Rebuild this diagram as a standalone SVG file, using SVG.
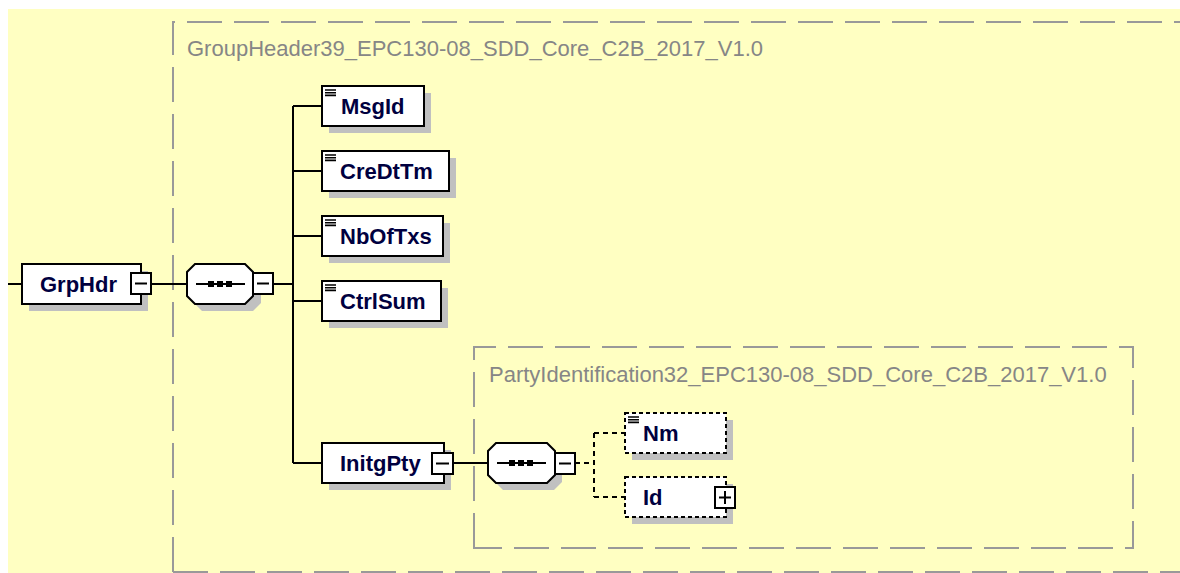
<svg xmlns="http://www.w3.org/2000/svg" width="1180" height="573" viewBox="0 0 1180 573">
<style>
.bg{fill:#FFFFC2}
.frame{fill:none;stroke:#999999;stroke-width:2;stroke-dasharray:35 12}
.title{font-family:"Liberation Sans",Arial,sans-serif;font-size:22px;fill:#868686}
.sh{fill:#c0c0c0}
.box{fill:#ffffff;stroke:#000000;stroke-width:2}
.dbox{fill:#ffffff;stroke:#000000;stroke-width:2;stroke-dasharray:4 3}
.lbl{font-family:"Liberation Sans",Arial,sans-serif;font-size:22px;font-weight:bold;fill:#00003f}
.ln{fill:none;stroke:#000000;stroke-width:2}
.dln{fill:none;stroke:#000000;stroke-width:2;stroke-dasharray:5 4}
.ic{stroke:#000000;stroke-width:1.6}
.pm{stroke:#000000;stroke-width:2}
.sq{fill:#000000}
</style>
<rect class="bg" x="8" y="9" width="1172" height="564"/>
<g id="frame-groupheader">
<path class="frame" d="M173,572 V22 H1180"/>
<path class="frame" d="M173,572 H1180"/>
<text class="title" x="187" y="56">GroupHeader39_EPC130-08_SDD_Core_C2B_2017_V1.0</text>
</g>
<g id="frame-party">
<path class="frame" d="M474,548 V347 H1133 V548 Z"/>
<text class="title" x="489" y="382">PartyIdentification32_EPC130-08_SDD_Core_C2B_2017_V1.0</text>
</g>
<g id="connectors">
<path class="ln" d="M8,284 H22"/>
<path class="ln" d="M151,284 H187"/>
<path class="ln" d="M273,284 H293"/>
<path class="ln" d="M293,106 V463"/>
<path class="ln" d="M293,106 H322 M293,171 H322 M293,236 H322 M293,301 H322 M293,463 H322"/>
<path class="ln" d="M453,463 H488"/>
<path class="dln" d="M575,463 H594"/>
<path class="dln" d="M594,433 V497"/>
<path class="dln" d="M594,433 H625 M594,497 H625"/>
</g>
<g id="GrpHdr">
<rect class="sh" x="29" y="271" width="119" height="40"/>
<rect class="box" x="22" y="264" width="119" height="40"/>
<text class="lbl" x="40" y="292">GrpHdr</text>
<rect class="box" x="131" y="273" width="20" height="21"/>
<path class="pm" d="M135,283.5 H147"/>
</g>
<g id="seq1">
<path class="sh" d="M202,271 H253 L261,279 V303 L253,311 H202 L194,303 V279 Z"/>
<path class="box" d="M195,264 H245 L253,272 V296 L245,304 H195 L187,296 V272 Z"/>
<path class="ln" d="M196,284 H245"/>
<rect class="sq" x="208" y="281" width="6" height="6"/>
<rect class="sq" x="217" y="281" width="6" height="6"/>
<rect class="sq" x="226" y="281" width="6" height="6"/>
<rect class="box" x="253" y="273" width="20" height="21"/>
<path class="pm" d="M257,283.5 H269"/>
</g>
<g id="MsgId">
<rect class="sh" x="329" y="93" width="102" height="40"/>
<rect class="box" x="322" y="86" width="102" height="40"/>
<path class="ic" d="M325,90 H336 M325,92.7 H336 M325,95.4 H336"/>
<text class="lbl" x="341" y="114">MsgId</text>
</g>
<g id="CreDtTm">
<rect class="sh" x="329" y="158" width="127" height="40"/>
<rect class="box" x="322" y="151" width="127" height="40"/>
<path class="ic" d="M325,155 H336 M325,157.7 H336 M325,160.4 H336"/>
<text class="lbl" x="340" y="179">CreDtTm</text>
</g>
<g id="NbOfTxs">
<rect class="sh" x="329" y="223" width="121" height="40"/>
<rect class="box" x="322" y="216" width="121" height="40"/>
<path class="ic" d="M325,220 H336 M325,222.7 H336 M325,225.4 H336"/>
<text class="lbl" x="340" y="244">NbOfTxs</text>
</g>
<g id="CtrlSum">
<rect class="sh" x="329" y="288" width="119" height="40"/>
<rect class="box" x="322" y="281" width="119" height="40"/>
<path class="ic" d="M325,285 H336 M325,287.7 H336 M325,290.4 H336"/>
<text class="lbl" x="340" y="309">CtrlSum</text>
</g>
<g id="InitgPty">
<rect class="sh" x="329" y="450" width="122" height="40"/>
<rect class="box" x="322" y="443" width="122" height="40"/>
<text class="lbl" x="340" y="471">InitgPty</text>
<rect class="box" x="432" y="453" width="21" height="21"/>
<path class="pm" d="M436,463.5 H449"/>
</g>
<g id="seq2">
<path class="sh" d="M503,450 H554 L562,458 V482 L554,490 H503 L495,482 V458 Z"/>
<path class="box" d="M496,443 H547 L555,451 V475 L547,483 H496 L488,475 V451 Z"/>
<path class="ln" d="M497,463 H546"/>
<rect class="sq" x="509" y="460" width="6" height="6"/>
<rect class="sq" x="518" y="460" width="6" height="6"/>
<rect class="sq" x="527" y="460" width="6" height="6"/>
<rect class="box" x="555" y="453" width="20" height="21"/>
<path class="pm" d="M559,463.5 H571"/>
</g>
<g id="Nm">
<rect class="sh" x="632" y="420" width="101" height="40"/>
<rect class="dbox" x="625" y="413" width="101" height="40"/>
<path class="ic" d="M628,417 H639 M628,419.7 H639 M628,422.4 H639"/>
<text class="lbl" x="643" y="441">Nm</text>
</g>
<g id="Id">
<rect class="sh" x="632" y="484" width="101" height="40"/>
<rect class="dbox" x="625" y="477" width="101" height="40"/>
<text class="lbl" x="643" y="505">Id</text>
<rect class="box" x="715" y="487" width="20" height="21"/>
<path class="pm" d="M719,497.5 H731 M725,491 V504"/>
</g>
</svg>
